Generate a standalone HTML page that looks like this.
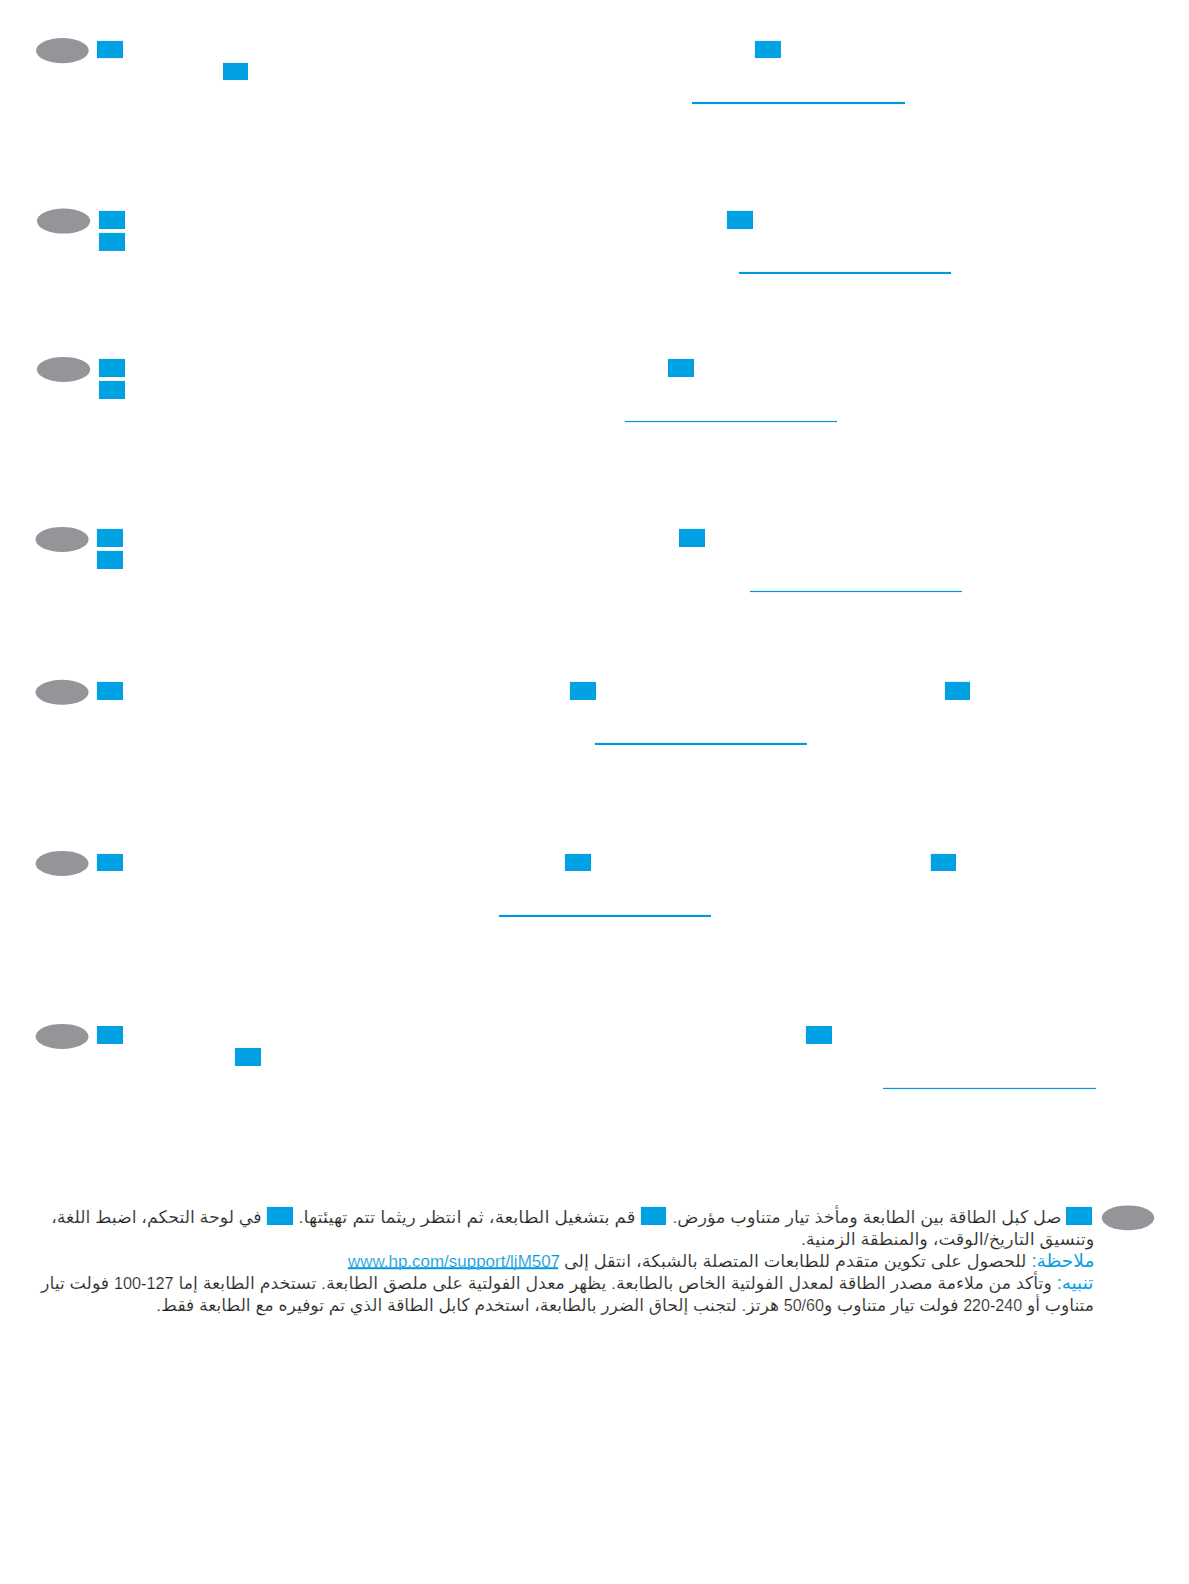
<!DOCTYPE html>
<html lang="ar">
<head>
<meta charset="utf-8">
<title>HP LaserJet M507</title>
<style>
html,body{margin:0;padding:0;background:#fff;}
body{width:1189px;height:1584px;position:relative;overflow:hidden;font-family:"Liberation Sans","DejaVu Sans",sans-serif;}
svg.g{position:absolute;left:0;top:0;width:1189px;height:1584px;}
.t{position:absolute;white-space:nowrap;direction:rtl;color:#231f20;-webkit-text-stroke:0.2px #fff;font-size:17.4px;line-height:22px;height:22px;transform-origin:100% 50%;}
.t b{font-weight:normal;color:#0a9fe1;-webkit-text-stroke:0;font-size:18.4px;}
.n{direction:ltr;unicode-bidi:isolate;font-size:16.3px;color:#231f20;-webkit-text-stroke:0.22px #fff;}
.u{position:absolute;white-space:nowrap;direction:ltr;color:#0096d6;-webkit-text-stroke:0.2px #fff;font-size:16.87px;line-height:22px;height:22px;transform-origin:0 50%;text-decoration:none;}
</style>
</head>
<body>
<svg class="g" viewBox="0 0 1189 1584">
<ellipse cx="62.35" cy="50.60" rx="26.35" ry="12.60" fill="#939598"/>
<ellipse cx="63.55" cy="221.10" rx="26.65" ry="12.50" fill="#939598"/>
<ellipse cx="63.55" cy="369.40" rx="26.65" ry="12.50" fill="#939598"/>
<ellipse cx="62.05" cy="539.40" rx="26.50" ry="12.50" fill="#939598"/>
<ellipse cx="62.05" cy="692.30" rx="26.50" ry="12.50" fill="#939598"/>
<ellipse cx="62.05" cy="863.45" rx="26.50" ry="12.55" fill="#939598"/>
<ellipse cx="62.05" cy="1036.45" rx="26.50" ry="12.55" fill="#939598"/>
<ellipse cx="1128.00" cy="1217.85" rx="26.30" ry="12.45" fill="#939598"/>
<rect x="97.50" y="41.40" width="25.00" height="16.25" fill="#00a2e3" stroke="#009ce0" stroke-width="1"/>
<rect x="755.40" y="41.40" width="25.00" height="16.20" fill="#00a2e3" stroke="#009ce0" stroke-width="1"/>
<rect x="223.47" y="63.40" width="24.07" height="16.15" fill="#00a2e3" stroke="#009ce0" stroke-width="1"/>
<rect x="99.40" y="211.40" width="25.10" height="17.10" fill="#00a2e3" stroke="#009ce0" stroke-width="1"/>
<rect x="99.40" y="233.40" width="25.10" height="17.00" fill="#00a2e3" stroke="#009ce0" stroke-width="1"/>
<rect x="727.40" y="211.40" width="25.10" height="17.10" fill="#00a2e3" stroke="#009ce0" stroke-width="1"/>
<rect x="99.40" y="359.40" width="25.10" height="17.05" fill="#00a2e3" stroke="#009ce0" stroke-width="1"/>
<rect x="99.40" y="381.40" width="25.10" height="17.05" fill="#00a2e3" stroke="#009ce0" stroke-width="1"/>
<rect x="668.50" y="359.40" width="25.00" height="17.05" fill="#00a2e3" stroke="#009ce0" stroke-width="1"/>
<rect x="97.40" y="529.40" width="25.05" height="17.05" fill="#00a2e3" stroke="#009ce0" stroke-width="1"/>
<rect x="97.40" y="551.40" width="25.05" height="17.05" fill="#00a2e3" stroke="#009ce0" stroke-width="1"/>
<rect x="679.50" y="529.40" width="25.00" height="17.05" fill="#00a2e3" stroke="#009ce0" stroke-width="1"/>
<rect x="97.40" y="682.40" width="25.05" height="17.10" fill="#00a2e3" stroke="#009ce0" stroke-width="1"/>
<rect x="570.40" y="682.40" width="25.10" height="17.10" fill="#00a2e3" stroke="#009ce0" stroke-width="1"/>
<rect x="945.42" y="682.35" width="24.10" height="17.15" fill="#00a2e3" stroke="#009ce0" stroke-width="1"/>
<rect x="97.40" y="854.40" width="25.05" height="16.05" fill="#00a2e3" stroke="#009ce0" stroke-width="1"/>
<rect x="565.40" y="854.40" width="25.10" height="16.05" fill="#00a2e3" stroke="#009ce0" stroke-width="1"/>
<rect x="931.30" y="854.40" width="24.20" height="16.05" fill="#00a2e3" stroke="#009ce0" stroke-width="1"/>
<rect x="97.40" y="1026.45" width="25.05" height="17.05" fill="#00a2e3" stroke="#009ce0" stroke-width="1"/>
<rect x="806.40" y="1026.45" width="25.10" height="17.05" fill="#00a2e3" stroke="#009ce0" stroke-width="1"/>
<rect x="235.40" y="1048.45" width="25.05" height="17.00" fill="#00a2e3" stroke="#009ce0" stroke-width="1"/>
<rect x="1066.45" y="1207.40" width="25.05" height="17.10" fill="#00a2e3" stroke="#009ce0" stroke-width="1"/>
<rect x="641.40" y="1207.40" width="24.10" height="17.10" fill="#00a2e3" stroke="#009ce0" stroke-width="1"/>
<rect x="267.35" y="1207.40" width="25.15" height="17.10" fill="#00a2e3" stroke="#009ce0" stroke-width="1"/>
<rect x="692.00" y="101.90" width="213.00" height="2.20" fill="#0099dd"/>
<rect x="738.90" y="271.90" width="212.10" height="2.10" fill="#0099dd"/>
<rect x="624.90" y="420.90" width="212.10" height="1.20" fill="#0099dd"/>
<rect x="749.90" y="590.90" width="212.10" height="1.20" fill="#0099dd"/>
<rect x="594.90" y="742.90" width="212.00" height="2.10" fill="#0099dd"/>
<rect x="498.90" y="914.90" width="212.10" height="2.10" fill="#0099dd"/>
<rect x="883.00" y="1087.85" width="213.00" height="1.20" fill="#0099dd"/>
<rect x="347.9" y="1267.2" width="210.2" height="2" fill="#0099dd"/>
</svg>
<div class="t" id="a1" style="right:128.00px;top:1206.30px;transform:scaleX(1.0092)">صل كبل الطاقة بين الطابعة ومأخذ تيار متناوب مؤرض.</div>
<div class="t" id="a2" style="right:553.80px;top:1206.30px;transform:scaleX(1.0486)">قم بتشغيل الطابعة، ثم انتظر ريثما تتم تهيئتها.</div>
<div class="t" id="a3" style="right:927.40px;top:1206.30px;transform:scaleX(1.0000)">في لوحة التحكم، اضبط اللغة،</div>
<div class="t" id="b1" style="right:94.60px;top:1228.20px;transform:scaleX(1.0176)">وتنسيق التاريخ/الوقت، والمنطقة الزمنية.</div>
<div class="t" id="c1" style="right:94.60px;top:1250.10px;transform:scaleX(1.0136)"><b>ملاحظة:</b> للحصول على تكوين متقدم للطابعات المتصلة بالشبكة، انتقل إلى</div>
<div class="t" id="d1" style="right:95.60px;top:1272.00px;transform:scaleX(0.9981)"><b>تنبيه:</b> وتأكد من ملاءمة مصدر الطاقة لمعدل الفولتية الخاص بالطابعة. يظهر معدل الفولتية على ملصق الطابعة. تستخدم الطابعة إما <span class="n">100-127</span> فولت تيار</div>
<div class="t" id="e1" style="right:94.60px;top:1293.90px;transform:scaleX(0.9870)">متناوب أو <span class="n">220-240</span> فولت تيار متناوب و<span class="n">50/60</span> هرتز. لتجنب إلحاق الضرر بالطابعة، استخدم كابل الطاقة الذي تم توفيره مع الطابعة فقط.</div>
<div class="u" id="u1" style="left:348.30px;top:1250.70px;transform:scaleX(1.0058)">www.hp.com/support/ljM507</div>
</body>
</html>
